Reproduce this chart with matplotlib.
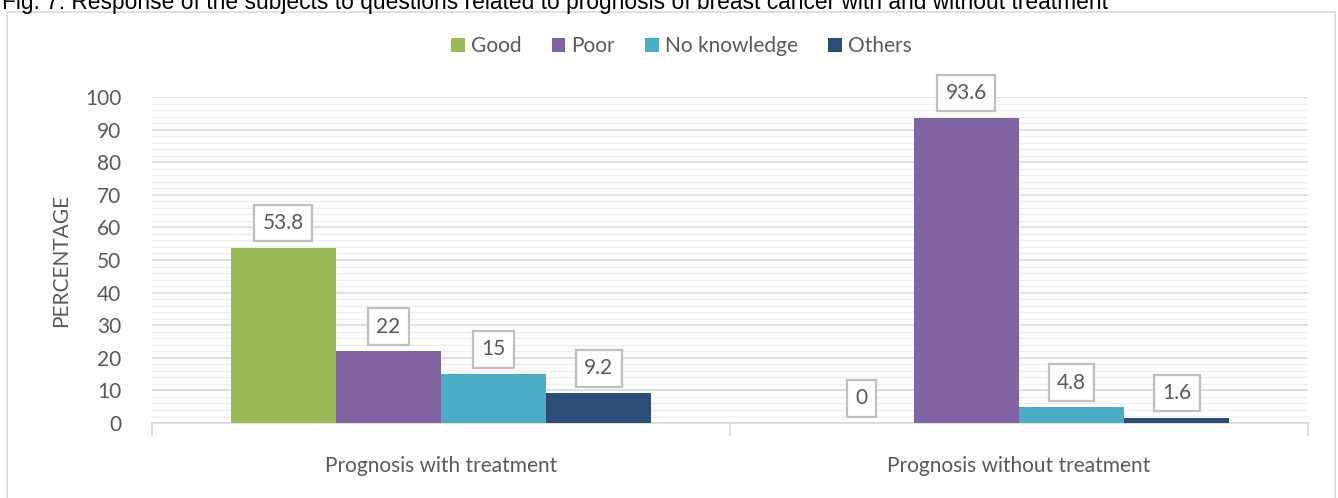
import numpy as np
import matplotlib.pyplot as plt
from matplotlib.patches import Rectangle

categories = ['Prognosis with treatment', 'Prognosis without treatment']
series = ['Good', 'Poor', 'No knowledge', 'Others']
good = [53.8, 0]
poor = [22, 93.6]
no_knowledge = [15, 4.8]
others = [9.2, 1.6]
colors = ['#9BBB59', '#8064A2', '#4BACC6', '#2C4D75']
title = 'Fig. 7: Response of the subjects to questions related to prognosis of breast cancer with and without treatment'

txt = '#595959'
fs = 15
plt.rcParams['font.family'] = ['Lato', 'DejaVu Sans']

fig = plt.figure(figsize=(13.38, 4.98), dpi=100)
W, H = 1338, 498
# outer chart frame
fig.patches.append(Rectangle((7 / W, -0.01), (1335 - 7) / W, 1 - 12 / H + 0.01,
                             transform=fig.transFigure, fill=False,
                             edgecolor='#D9D9D9', lw=1.2))
fig.text(2 / W, 1 - 9 / H, title, family='Liberation Sans', fontsize=16.4,
         color='black', va='baseline', ha='left')

ax = fig.add_axes([152 / W, 1 - 423 / H, (1308 - 152) / W, (423 - 97) / H])
x = np.arange(len(categories))
bw = 0.182
vals = [good, poor, no_knowledge, others]
for i, (name, v, c) in enumerate(zip(series, vals, colors)):
    pos = x + (i - 1.5) * bw
    ax.bar(pos, v, bw, color=c, label=name, zorder=3)
    for px, pv in zip(pos, v):
        ax.text(px, pv + 7.6, f'{pv:g}', ha='center', va='center', fontsize=fs,
                color=txt, zorder=4,
                bbox=dict(boxstyle='square,pad=0.4', fc='white', ec='#BFBFBF', lw=1.6))

ax.set_xlim(-0.5, 1.5)
ax.set_ylim(0, 100)
ax.set_yticks(np.arange(0, 101, 10))
ax.set_yticks(np.arange(0, 101, 2), minor=True)
ax.yaxis.grid(True, which='major', color='#D9D9D9', lw=1.2, zorder=0)
ax.yaxis.grid(True, which='minor', color='#EFEFEF', lw=1.0, zorder=0)
ax.set_xticks(x)
ax.set_xticklabels(categories)
ax.set_xticks([-0.5, 0.5, 1.5], minor=True)
ax.tick_params(axis='x', which='major', length=0, pad=24, labelsize=fs, labelcolor=txt)
ax.tick_params(axis='x', which='minor', length=9, color='#D9D9D9', width=1.2)
ax.tick_params(axis='y', which='both', length=0, labelsize=fs, labelcolor=txt, pad=22)
for s in ['top', 'right', 'left']:
    ax.spines[s].set_visible(False)
ax.spines['bottom'].set_color('#D9D9D9')
ax.spines['bottom'].set_linewidth(1.2)
ax.set_ylabel('PERCENTAGE', fontsize=fs, color=txt, labelpad=10)

ax.legend(loc='center', bbox_to_anchor=(0.458, 1 + (97 - 46) / (423 - 97)), ncol=4,
          frameon=False, fontsize=fs, labelcolor=txt, handlelength=0.65,
          handleheight=0.65, handletextpad=0.3, columnspacing=1.45)

fig.savefig('out.png', dpi=100)
